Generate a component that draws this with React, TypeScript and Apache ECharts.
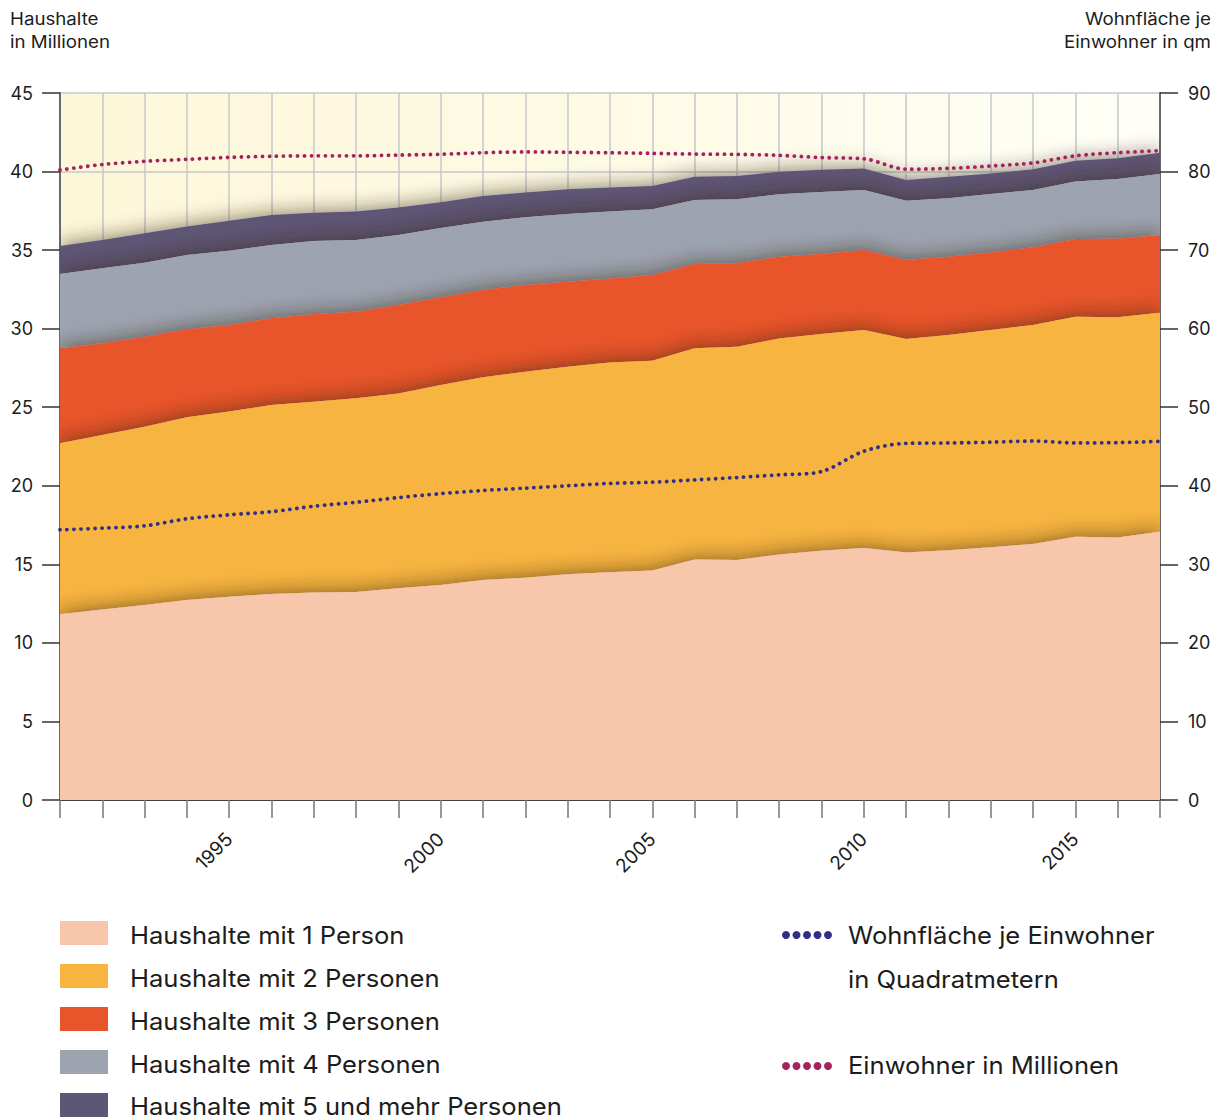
import React, { useEffect, useRef } from "react";
import * as echarts from "echarts";

const years = [
  "1991", "1992", "1993", "1994", "1995", "1996", "1997", "1998", "1999",
  "2000", "2001", "2002", "2003", "2004", "2005", "2006", "2007", "2008",
  "2009", "2010", "2011", "2012", "2013", "2014", "2015", "2016", "2017",
];

// Haushalte in Millionen
const hh1 = [11.82, 12.12, 12.41, 12.73, 12.94, 13.11, 13.2, 13.24, 13.47, 13.68, 14.0, 14.15, 14.37, 14.5, 14.6, 15.31, 15.27, 15.63, 15.86, 16.04, 15.76, 15.89, 16.08, 16.29, 16.75, 16.71, 17.08];
const hh2 = [10.88, 11.11, 11.35, 11.63, 11.78, 12.03, 12.15, 12.33, 12.41, 12.73, 12.9, 13.11, 13.21, 13.34, 13.36, 13.44, 13.58, 13.75, 13.8, 13.88, 13.58, 13.71, 13.84, 13.94, 14.01, 14.01, 13.94];
const hh3 = [6.05, 5.84, 5.73, 5.6, 5.51, 5.52, 5.56, 5.51, 5.62, 5.59, 5.56, 5.52, 5.41, 5.36, 5.46, 5.37, 5.31, 5.2, 5.09, 5.08, 5.03, 4.98, 4.92, 4.95, 4.95, 5.01, 4.94];
const hh4 = [4.73, 4.77, 4.71, 4.73, 4.73, 4.67, 4.67, 4.56, 4.46, 4.4, 4.35, 4.31, 4.31, 4.25, 4.18, 4.07, 4.07, 3.97, 3.95, 3.83, 3.77, 3.72, 3.73, 3.65, 3.65, 3.8, 3.88];
const hh5 = [1.78, 1.8, 1.88, 1.82, 1.91, 1.9, 1.8, 1.81, 1.76, 1.65, 1.63, 1.57, 1.57, 1.54, 1.48, 1.48, 1.49, 1.44, 1.42, 1.37, 1.32, 1.37, 1.31, 1.31, 1.33, 1.31, 1.36];

// rechte Achse
const wohnflaeche = [34.4, 34.6, 34.9, 35.8, 36.3, 36.7, 37.4, 37.9, 38.5, 39.0, 39.4, 39.7, 40.0, 40.3, 40.45, 40.75, 41.05, 41.4, 41.8, 44.4, 45.4, 45.45, 45.55, 45.7, 45.45, 45.5, 45.65];
const einwohner = [80.2, 80.9, 81.3, 81.55, 81.8, 81.95, 82.0, 82.0, 82.1, 82.2, 82.4, 82.5, 82.45, 82.4, 82.32, 82.23, 82.19, 82.06, 81.78, 81.63, 80.3, 80.4, 80.7, 81.1, 82.0, 82.4, 82.65];

const leftAxis = { min: 0, max: 45, interval: 5 };
const rightAxis = { min: 0, max: 90, interval: 10 };

const householdNames = [
  "Haushalte mit 1 Person",
  "Haushalte mit 2 Personen",
  "Haushalte mit 3 Personen",
  "Haushalte mit 4 Personen",
  "Haushalte mit 5 und mehr Personen",
];
const householdColors = ["#f8c6ab", "#f7b43f", "#e8552a", "#9da4b0", "#5e5675"];
const lineNames = ["Wohnfläche je Einwohner in Quadratmetern", "Einwohner in Millionen"];
const lineColors = ["#2f2f86", "#a6225f"];

const FONT = "Inter, 'Noto Sans', sans-serif";
const TEXT = "#1c1c1c";

export default function App() {
  const ref = useRef<HTMLDivElement>(null);
  useEffect(() => {
    document.body.style.margin = "0";
    const chart = echarts.init(ref.current!, null, { renderer: "svg" });
    const hhData = [hh1, hh2, hh3, hh4, hh5];

    const areaSeries = hhData.map((d, i) => ({
      type: "line",
      name: householdNames[i],
      data: d,
      stack: "haushalte",
      yAxisIndex: 0,
      symbol: "none",
      silent: true,
      z: 8 - i,
      lineStyle: { width: 0, opacity: 0 },
      areaStyle: {
        color: householdColors[i],
        opacity: 1,
        shadowBlur: 18,
        shadowOffsetY: -3,
        shadowColor: "rgba(50,30,10,0.5)",
      },
      emphasis: { disabled: true },
    }));

    const dotSeries = [wohnflaeche, einwohner].map((d, i) => ({
      type: "line",
      name: lineNames[i],
      data: d,
      yAxisIndex: 1,
      symbol: "none",
      smooth: 0.3,
      silent: true,
      z: 12,
      lineStyle: { color: lineColors[i], width: 3.8, type: [0.1, 6.9], cap: "round" },
      emphasis: { disabled: true },
    }));

    const LS = 1.065; // horizontal stretch of legend text
    const legendRows = [933, 976, 1019, 1062, 1105];
    const textRows = [935, 978, 1021, 1064, 1106];
    const graphic: any[] = [
      {
        type: "text",
        x: 10,
        y: 7,
        scaleX: 1.1,
        style: { text: "Haushalte\nin Millionen", font: `17px ${FONT}`, fill: TEXT, lineHeight: 23 },
      },
      {
        type: "text",
        x: 1211,
        y: 7,
        scaleX: 1.1,
        style: { text: "Wohnfläche je\nEinwohner in qm", font: `17px ${FONT}`, fill: TEXT, lineHeight: 23, align: "right" },
      },
    ];
    householdNames.forEach((n, i) => {
      graphic.push({
        type: "rect",
        shape: { x: 60, y: legendRows[i] - 12, width: 48, height: 24 },
        style: { fill: householdColors[i] },
      });
      graphic.push({
        type: "text",
        x: 130,
        y: textRows[i],
        scaleX: LS,
        style: { text: n, font: `24px ${FONT}`, fill: TEXT, verticalAlign: "middle", lineHeight: 22 },
      });
    });
    const dotRows = [935, 1066];
    dotRows.forEach((y, i) => {
      for (let k = 0; k < 5; k++) {
        graphic.push({
          type: "circle",
          shape: { cx: 786 + k * 10.5, cy: y, r: 4 },
          style: { fill: lineColors[i] },
        });
      }
    });
    [
      ["Wohnfläche je Einwohner", 935],
      ["in Quadratmetern", 979],
      ["Einwohner in Millionen", 1065],
    ].forEach(([t, y]) => {
      graphic.push({
        type: "text",
        x: 848,
        y: y as number,
        scaleX: LS,
        style: { text: t, font: `24px ${FONT}`, fill: TEXT, verticalAlign: "middle", lineHeight: 22 },
      });
    });

    const option: any = {
      animation: false,
      backgroundColor: "#ffffff",
      textStyle: { fontFamily: FONT },
      grid: {
        left: 60,
        right: 61,
        top: 93,
        bottom: 320,
        show: true,
        borderWidth: 0,
        backgroundColor: {
          type: "linear",
          x: 0, y: 0, x2: 1, y2: 0,
          colorStops: [
            { offset: 0, color: "#fdf7d9" },
            { offset: 0.6, color: "#fefbe8" },
            { offset: 1, color: "#fffff8" },
          ],
        },
      },
      xAxis: {
        type: "category",
        data: years,
        boundaryGap: false,
        axisLine: { lineStyle: { color: "#111", width: 1.5 } },
        axisTick: { show: true, interval: 0, length: 18, lineStyle: { color: "#777", width: 1.5 } },
        axisLabel: {
          interval: (idx: number, val: string) => Number(val) % 5 === 0,
          rotate: 45,
          margin: 36,
          fontSize: 19,
          color: TEXT,
          fontFamily: FONT,
        },
        splitLine: { show: true, interval: 0, lineStyle: { color: "#c6c8cb", width: 1.5 } },
      },
      yAxis: [
        {
          type: "value",
          position: "left",
          ...leftAxis,
          axisLine: { show: true, lineStyle: { color: "#6a6a6a", width: 2 } },
          axisTick: { show: true, length: 18, lineStyle: { color: "#333", width: 1.5 } },
          axisLabel: { margin: 27, fontSize: 18, color: TEXT, fontFamily: FONT },
          splitLine: { show: true, lineStyle: { color: "#c6c8cb", width: 1.5 } },
        },
        {
          type: "value",
          position: "right",
          ...rightAxis,
          axisLine: { show: true, lineStyle: { color: "#6a6a6a", width: 2 } },
          axisTick: { show: true, length: 18, lineStyle: { color: "#333", width: 1.5 } },
          axisLabel: { margin: 28, fontSize: 18, color: TEXT, fontFamily: FONT },
          splitLine: { show: false },
        },
      ],
      series: [...areaSeries, ...dotSeries],
      graphic,
    };
    chart.setOption(option);
    return () => chart.dispose();
  }, []);
  return <div ref={ref} style={{ width: 1221, height: 1120 }} />;
}
